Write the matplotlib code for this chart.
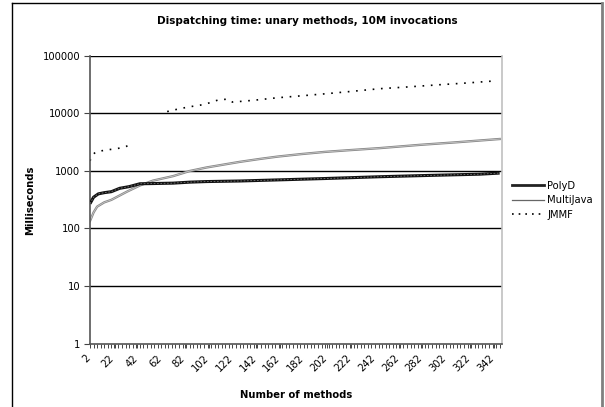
import matplotlib
matplotlib.use("Agg")
import matplotlib.pyplot as plt
import matplotlib.transforms as mtransforms
from matplotlib.ticker import FixedLocator, NullFormatter, FixedFormatter
from matplotlib.lines import Line2D

# ---- data ----
polyd_x = [2, 5, 9, 14, 20, 27, 35, 44, 55, 72, 86, 100, 128, 160, 200, 246, 280, 310, 330, 347]
polyd_y = [270, 350, 400, 420, 437, 500, 535, 600, 605, 615, 640, 655, 670, 700, 740, 795, 830, 860, 880, 920]

multi_x = [2, 5, 8, 14, 20, 33, 44, 55, 72, 86, 100, 128, 145, 160, 180, 200, 220, 246, 280, 310, 347]
multi_y = [135, 190, 240, 285, 315, 436, 560, 680, 815, 1000, 1150, 1440, 1620, 1780, 1970, 2150, 2300, 2500, 2850, 3150, 3600]

jmmf1_x = [2, 4, 7, 12, 18, 24, 30, 33, 36]
jmmf1_y = [1500, 1900, 2150, 2250, 2350, 2450, 2550, 2700, 3500]
jmmf2_x = [67, 75, 85, 95, 102, 110, 118, 122, 130, 140, 160, 180, 200, 220, 246, 270, 295, 320, 344]
jmmf2_y = [10800, 11800, 13000, 14000, 15200, 17200, 17800, 15800, 16300, 17000, 18800, 20300, 22000, 24000, 27000, 29000, 31500, 34000, 37000]

series_names = ["PolyD", "MultiJava", "JMMF"]
x_ticklabels = [str(v) for v in range(2, 343, 20)]
y_ticks = [1, 10, 100, 1000, 10000, 100000]

W, H = 605, 407
fig = plt.figure(figsize=(W / 100, H / 100), dpi=100)
plt.rcParams['font.family'] = ['DejaVu Sans']
FS = 7.2

ax = fig.add_axes([90 / W, 1 - 343.5 / H, 412 / W, (343.5 - 56) / H])
ax.set_yscale('log')
ax.set_ylim(1, 100000)
ax.set_xlim(2, 349)

# PolyD: thick dark band with a lighter dashed core
ax.plot(polyd_x, polyd_y, color='#111111', lw=2.2, solid_capstyle='butt', zorder=3)
ax.plot(polyd_x, polyd_y, color='#777777', lw=0.6, linestyle=(0, (2, 2)), zorder=3.1)
# MultiJava: grey double-ish line
ax.plot(multi_x, multi_y, color='#888888', lw=1.7, zorder=2)
ax.plot(multi_x, multi_y, color='#cfcfcf', lw=0.5, zorder=2.1)
# JMMF: dotted, two segments
ax.plot(jmmf1_x, jmmf1_y, color='black', lw=1.2, linestyle=(0, (1, 4)))
ax.plot(jmmf2_x, jmmf2_y, color='black', lw=1.2, linestyle=(0, (1, 4)))

# grid
for v in y_ticks[1:]:
    ax.axhline(v, color='black', lw=1.0, zorder=0.5)

ax.yaxis.set_major_locator(FixedLocator(y_ticks))
ax.yaxis.set_major_formatter(FixedFormatter([str(v) for v in y_ticks]))
ax.yaxis.set_minor_locator(FixedLocator([]))
ax.tick_params(axis='y', which='major', length=4, width=0.8, color='#444', labelsize=FS, pad=3)

ax.xaxis.set_major_locator(FixedLocator(list(range(2, 343, 20))))
ax.xaxis.set_major_formatter(FixedFormatter(x_ticklabels))
ax.xaxis.set_minor_locator(FixedLocator(list(range(2, 350, 3))))
ax.xaxis.set_minor_formatter(NullFormatter())
ax.tick_params(axis='x', which='both', length=3, width=0.7, color='#444', labelsize=FS, pad=4)
offset = mtransforms.ScaledTranslation(-5 / 100, 0, fig.dpi_scale_trans)
for lbl in ax.get_xticklabels():
    lbl.set_rotation(45)
    lbl.set_ha('right')
    lbl.set_va('top')
    lbl.set_rotation_mode('anchor')
    lbl.set_transform(lbl.get_transform() + offset)

for s in ['left', 'bottom']:
    ax.spines[s].set_color('#555555')
    ax.spines[s].set_linewidth(1.2)
ax.spines['right'].set_color('#c0c0c0')
ax.spines['right'].set_linewidth(1.2)
ax.spines['top'].set_visible(False)

# texts
fig.text(307 / W, 1 - 21 / H, "Dispatching time: unary methods, 10M invocations",
         ha='center', va='center', fontsize=7.5, fontweight='bold')
fig.text(30 / W, 1 - 200 / H, "Milliseconds", rotation=90, ha='center', va='center',
         fontsize=FS, fontweight='bold')
fig.text(296 / W, 1 - 395 / H, "Number of methods", ha='center', va='center',
         fontsize=FS, fontweight='bold')

# legend
handles = [Line2D([], [], color='#222222', lw=2.0),
           Line2D([], [], color='#666666', lw=0.9),
           Line2D([], [], color='black', lw=1.2, linestyle=(0, (1, 3)))]
fig.legend(handles, series_names, loc='center left', bbox_to_anchor=(512 / W, 1 - 200 / H),
           frameon=False, fontsize=FS, handlelength=3.2, handletextpad=0.35,
           labelspacing=0.45, borderpad=0, borderaxespad=0)

# figure border
fig.add_artist(Line2D([12 / W, 12 / W], [0, 1 - 3 / H], color='black', lw=1.0, transform=fig.transFigure))
fig.add_artist(Line2D([12 / W, 602 / W], [1 - 3 / H, 1 - 3 / H], color='black', lw=1.0, transform=fig.transFigure))
fig.add_artist(Line2D([602 / W, 602 / W], [0, 1 - 3 / H], color='#808080', lw=2.0, transform=fig.transFigure))

fig.savefig("out.png", dpi=100)
